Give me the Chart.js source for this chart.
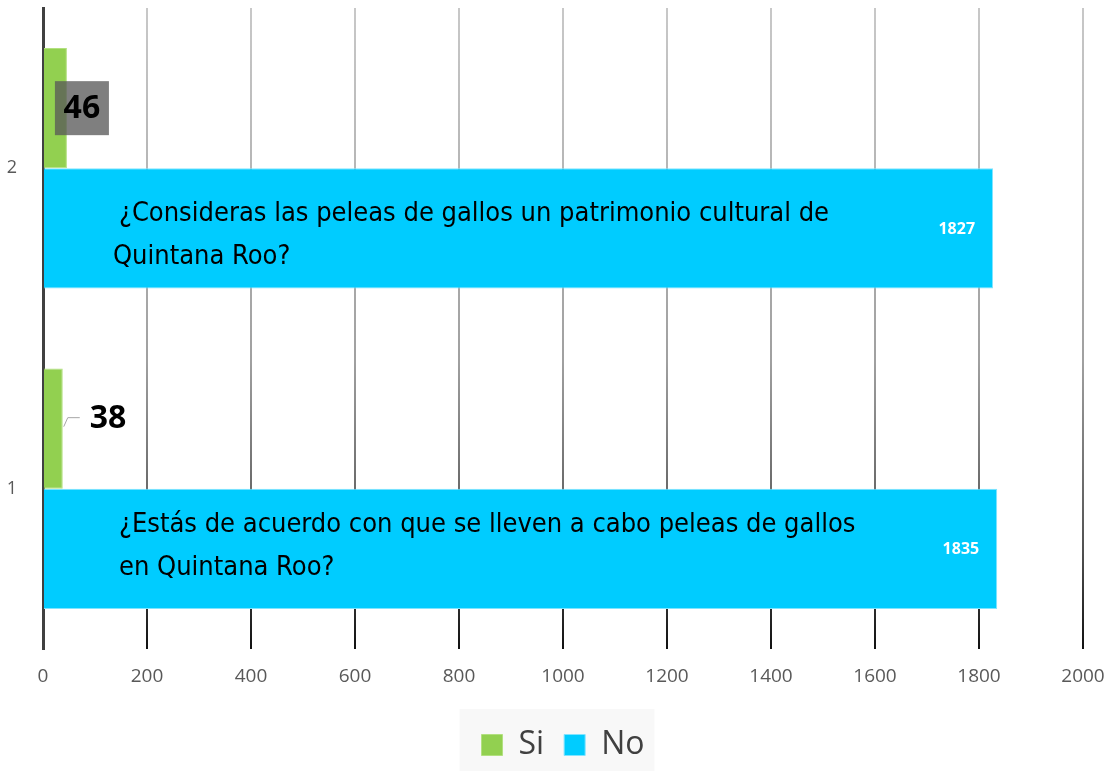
<!DOCTYPE html>
<html>
<head>
<meta charset="utf-8">
<script src="https://cdn.jsdelivr.net/npm/chart.js@4"></script>
<style>
  html, body { margin: 0; padding: 0; background: #ffffff; }
  #wrap { width: 1111px; height: 771px; position: relative; }
</style>
</head>
<body>
<div id="wrap"><canvas id="c" width="1111" height="771"></canvas></div>
<script>
// ---- data ----
const categories = ['2', '1'];
const seriesNames = ['Si', 'No'];
const siValues = [46, 38];
const noValues = [1827, 1835];
const questionLines = [
  ['¿Consideras las peleas de gallos un patrimonio cultural de', 'Quintana Roo?'],
  ['¿Estás de acuerdo con que se lleven a cabo peleas de gallos', 'en Quintana Roo?']
];
const xMin = 0, xMax = 2000, xStep = 200;

// ---- styles ----
const COLORS = { si: '#92d050', siBorder: '#b2e07f', no: '#00ccff', noBorder: '#80e4ff', tick: '#595959', axis: '#404040' };
const siLabelStyle = ['box', 'leader'];
const questionOffsets = [
  { dx1: 75, dy1: -14, dx2: 69, dy2: 29 },
  { dx1: 75, dy1: -24, dx2: 75, dy2: 19 }
];
const QFONT = '27px "Liberation Sans Narrow", "DejaVu Sans Condensed", sans-serif';

const annotations = {
  id: 'annotations',
  beforeDraw(chart) {
    const lg = chart.legend;
    if (!lg || !lg.legendHitBoxes || !lg.legendHitBoxes.length) return;
    const boxes = lg.legendHitBoxes;
    const l = Math.min(...boxes.map(b => b.left)) - 22;
    const r = Math.max(...boxes.map(b => b.left + b.width)) + 10;
    const ctx = chart.ctx;
    ctx.save();
    ctx.fillStyle = '#f8f8f8';
    ctx.fillRect(l, lg.top, r - l, chart.height - lg.top);
    ctx.restore();
  },
  afterDatasetsDraw(chart) {
    const ctx = chart.ctx;
    const siMeta = chart.getDatasetMeta(0);
    const noMeta = chart.getDatasetMeta(1);
    ctx.save();
    noMeta.data.forEach((el, i) => {
      ctx.fillStyle = '#ffffff';
      ctx.font = 'bold 16px "Open Sans", sans-serif';
      ctx.textAlign = 'right';
      ctx.textBaseline = 'middle';
      ctx.fillText(String(noValues[i]), el.x - 18, el.y + 1);
      const o = questionOffsets[i];
      ctx.fillStyle = '#000000';
      ctx.font = QFONT;
      ctx.textAlign = 'left';
      ctx.fillText(questionLines[i][0], el.base + o.dx1, el.y + o.dy1);
      ctx.fillText(questionLines[i][1], el.base + o.dx2, el.y + o.dy2);
    });
    siMeta.data.forEach((el, i) => {
      ctx.font = 'bold 32px "Open Sans", sans-serif';
      ctx.textBaseline = 'middle';
      if (siLabelStyle[i] === 'box') {
        ctx.fillStyle = 'rgba(89,89,89,0.77)';
        ctx.fillRect(el.x - 12, el.y - 27, 54, 54);
        ctx.fillStyle = '#000000';
        ctx.textAlign = 'center';
        ctx.fillText(String(siValues[i]), el.x + 15, el.y + 1);
      } else {
        ctx.strokeStyle = '#a6a6a6';
        ctx.lineWidth = 1;
        ctx.beginPath();
        ctx.moveTo(el.x + 1, el.y - 2);
        ctx.lineTo(el.x + 5, el.y - 11);
        ctx.lineTo(el.x + 17, el.y - 11);
        ctx.stroke();
        ctx.fillStyle = '#000000';
        ctx.textAlign = 'left';
        ctx.fillText(String(siValues[i]), el.x + 27, el.y - 10);
      }
    });
    ctx.restore();
  }
};

function gridGradient(context) {
  const chart = context.chart;
  const area = chart.chartArea;
  if (!area) return '#bbbbbb';
  const g = chart.ctx.createLinearGradient(0, area.top, 0, area.bottom);
  g.addColorStop(0, '#c8c8c8');
  g.addColorStop(0.55, '#a0a0a0');
  g.addColorStop(0.85, '#505050');
  g.addColorStop(1, '#111111');
  return g;
}

new Chart(document.getElementById('c'), {
  type: 'bar',
  data: {
    labels: categories,
    datasets: [
      { label: seriesNames[0], data: siValues, backgroundColor: COLORS.si, borderColor: COLORS.siBorder, borderWidth: 1 },
      { label: seriesNames[1], data: noValues, backgroundColor: COLORS.no, borderColor: COLORS.noBorder, borderWidth: 1 }
    ]
  },
  options: {
    indexAxis: 'y',
    responsive: false,
    animation: false,
    devicePixelRatio: 1,
    layout: { padding: { top: 8, right: 28, left: 0, bottom: 0 } },
    datasets: { bar: { categoryPercentage: 0.75, barPercentage: 1.0 } },
    scales: {
      x: {
        min: xMin, max: xMax,
        ticks: { stepSize: xStep, color: COLORS.tick, font: { family: '"Open Sans", sans-serif', size: 19 }, padding: 16,
                 callback: (v) => String(v) },
        grid: { color: (c) => c.tick && c.tick.value === 0 ? 'rgba(0,0,0,0)' : gridGradient(c), lineWidth: 2, drawTicks: false },
        border: { display: false },
        afterFit(scale) { scale.height = 60; scale.paddingLeft = 0; scale.paddingRight = 0; }
      },
      y: {
        ticks: { color: COLORS.tick, font: { family: '"Open Sans", sans-serif', size: 18 }, padding: 18 },
        grid: { display: false },
        border: { display: true, color: COLORS.axis, width: 3 },
        afterFit(scale) { scale.width = 43; scale.paddingTop = 0; scale.paddingBottom = 0; }
      }
    },
    plugins: {
      legend: {
        position: 'bottom',
        fullSize: false,
        labels: { color: '#404040', font: { family: '"Open Sans", sans-serif', size: 32 }, boxWidth: 21, boxHeight: 21, padding: 20 }
      },
      tooltip: { enabled: false }
    }
  },
  plugins: [annotations]
});
</script>
</body>
</html>
